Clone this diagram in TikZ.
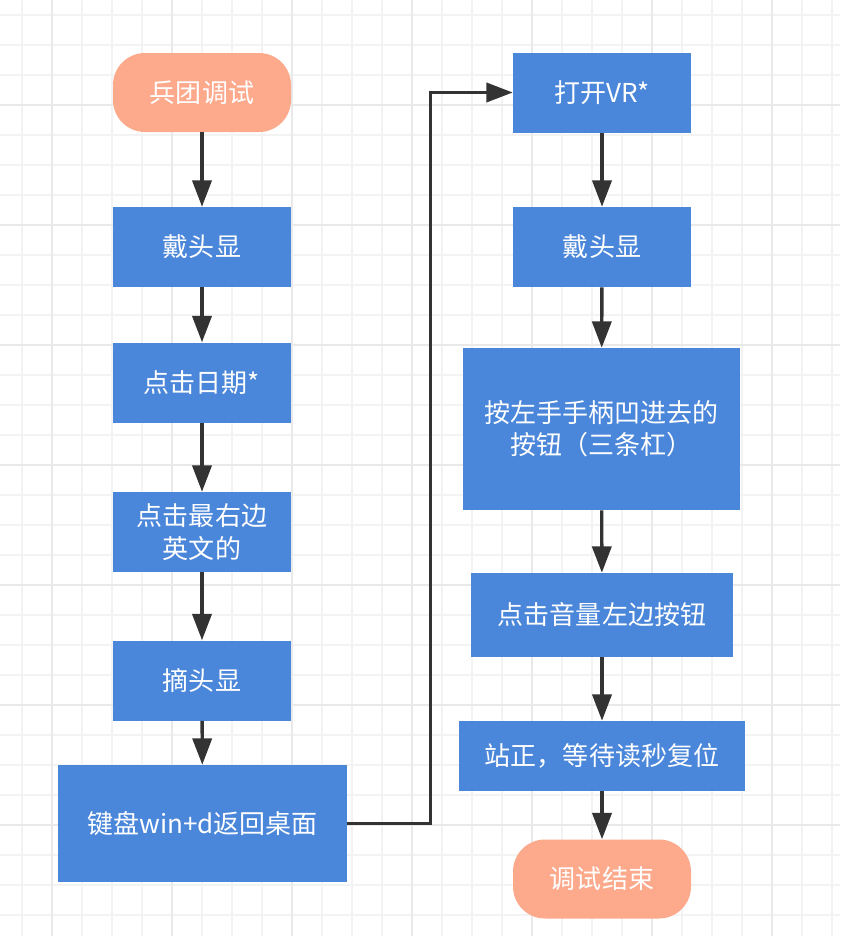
\documentclass[tikz,border=0pt]{standalone}
\usepackage{fontspec}
\setmainfont{Noto Sans CJK SC}
\usepackage{tikz}
\usetikzlibrary{arrows.meta,positioning}

\definecolor{stepblue}{HTML}{4A86D9}
\definecolor{termsalmon}{HTML}{FCA98C}
\definecolor{arrgray}{HTML}{333333}
\definecolor{gridminor}{HTML}{F3F3F3}
\definecolor{gridmajor}{HTML}{E9E9E9}

\begin{document}
\begin{tikzpicture}[
  font=\fontsize{18.5}{23}\selectfont,
  >={Triangle[length=0.66cm, width=0.48cm]},
  termbox/.style={fill=termsalmon, text=white, rounded corners=0.8cm, align=center, minimum width=4.45cm, minimum height=1.975cm, inner sep=2pt},
  stepbox/.style={fill=stepblue, text=white, align=center, minimum width=4.45cm, minimum height=2cm, inner sep=2pt},
  arr/.style={->, draw=arrgray, line width=2.4pt}
]
\useasboundingbox (0,0) rectangle (21,-23.4);
\fill[white] (0,0) rectangle (21,-23.4);
% grid
\foreach \k in {0,...,27} \draw[gridminor, line width=1.1pt] ({0.55+0.75*\k},0) -- ++(0,-23.4);
\foreach \k in {0,...,30} \draw[gridminor, line width=1.1pt] (0,{-0.375-0.75*\k}) -- ++(21,0);
\foreach \k in {0,...,6} \draw[gridmajor, line width=1.1pt] ({1.3+3*\k},0) -- ++(0,-23.4);
\foreach \k in {0,...,6} \draw[gridmajor, line width=1.1pt] (0,{-2.625-3*\k}) -- ++(21,0);

% left column
\node[termbox] (a1) at (5.05,-2.3125) {兵团调试};
\node[stepbox] (a2) at (5.05,-6.175) {戴头显};
\node[stepbox] (a3) at (5.05,-9.5625) {点击日期*};
\node[stepbox] (a4) at (5.05,-13.3) {点击最右边\\英文的};
\node[stepbox] (a5) at (5.05,-17.0125) {摘头显};
\node[stepbox, minimum width=7.225cm, minimum height=2.925cm] (a6) at (5.0625,-20.5875) {键盘win+d返回桌面};

% right column
\node[stepbox] (b1) at (15.05,-2.3125) {打开VR*};
\node[stepbox] (b2) at (15.05,-6.175) {戴头显};
\node[stepbox, minimum width=6.925cm, minimum height=4.05cm] (b3) at (15.0375,-10.725) {按左手手柄凹进去的\\按钮（三条杠）};
\node[stepbox, minimum width=6.55cm, minimum height=2.1cm] (b4) at (15.05,-15.375) {点击音量左边按钮};
\node[stepbox, minimum width=7.15cm, minimum height=1.75cm] (b5) at (15.05,-18.9) {站正，等待读秒复位};
\node[termbox] (b6) at (15.05,-21.975) {调试结束};

\draw[arr] (a1) -- (a2);
\draw[arr] (a2) -- (a3);
\draw[arr] (a3) -- (a4);
\draw[arr] (a4) -- (a5);
\draw[arr] (a5) -- (a6);
\draw[arr] (a6.east) -- ++(2.075,0) |- (b1.west);
\draw[arr] (b1) -- (b2);
\draw[arr] (b2) -- (b3);
\draw[arr] (b3) -- (b4);
\draw[arr] (b4) -- (b5);
\draw[arr] (b5) -- (b6);
\end{tikzpicture}
\end{document}
